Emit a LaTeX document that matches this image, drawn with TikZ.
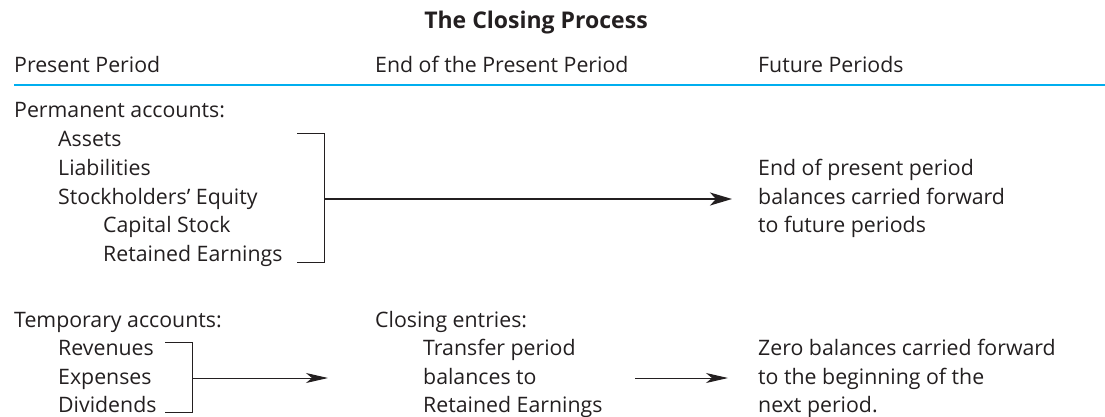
\documentclass[tikz,border=0pt]{standalone}
\usepackage{fontspec}
\setmainfont{Open Sans}
\usetikzlibrary{arrows.meta}
\definecolor{ink}{HTML}{231F20}
\definecolor{rulecol}{HTML}{00AEEF}
\begin{document}
\begin{tikzpicture}[x=1pt,y=-1pt,
  txt/.style={anchor=base west, inner sep=0pt, font=\fontsize{21.3}{24}\selectfont, text=ink},
  ttl/.style={anchor=base, inner sep=0pt, font=\fontsize{23}{26}\selectfont\bfseries, text=ink},
  brk/.style={draw=ink, line width=1pt},
  bigarrow/.style={draw=ink, line width=2pt, -{Stealth[length=22pt,width=13pt,inset=6pt]}},
  smallarrow/.style={draw=ink, line width=1pt, -{Stealth[length=22pt,width=10pt,inset=6pt]}}]
\useasboundingbox (0,0) rectangle (1105,416);
% title and headers
\node[ttl] (title) at (536,28) {The Closing Process};
\node[txt] (h1) at (14,72) {Present Period};
\node[txt] (h2) at (375,72) {End of the Present Period};
\node[txt] (h3) at (758,72) {Future Periods};
\coordinate (rl) at (14,85);
\coordinate (rr) at (1105,85);
\draw[rulecol, line width=2.2pt] (rl) -- (rr);
% permanent accounts
\node[txt] (p0) at (14,117) {Permanent accounts:};
\node[txt] (p1) at (58,146) {Assets};
\node[txt] (p2) at (58,175) {Liabilities};
\node[txt] (p3) at (58,204) {Stockholders’ Equity};
\node[txt] (p4) at (103,232) {Capital Stock};
\node[txt] (p5) at (103,261) {Retained Earnings};
\node[txt] (f1) at (758,175) {End of present period};
\node[txt] (f2) at (758,204) {balances carried forward};
\node[txt] (f3) at (758,232) {to future periods};
\coordinate (b1a) at (297,133);
\coordinate (b1b) at (324,133);
\coordinate (b1c) at (324,262);
\coordinate (b1d) at (297,262);
\coordinate (b1m) at (324,199);
\coordinate (a1e) at (732,199);
\draw[brk] (b1a) -- (b1b) -- (b1c) -- (b1d);
\draw[bigarrow] (b1m) -- (a1e);
% temporary accounts
\node[txt] (t0) at (14,327) {Temporary accounts:};
\node[txt] (t1) at (58,355) {Revenues};
\node[txt] (t2) at (58,384) {Expenses};
\node[txt] (t3) at (58,412) {Dividends};
\node[txt] (c0) at (375,327) {Closing entries:};
\node[txt] (c1) at (423,355) {Transfer period};
\node[txt] (c2) at (423,384) {balances to};
\node[txt] (c3) at (423,412) {Retained Earnings};
\node[txt] (z1) at (758,355) {Zero balances carried forward};
\node[txt] (z2) at (758,384) {to the beginning of the};
\node[txt] (z3) at (758,412) {next period.};
\coordinate (b2a) at (165,342);
\coordinate (b2b) at (192,342);
\coordinate (b2c) at (192,412);
\coordinate (b2d) at (165,412);
\coordinate (b2m) at (192,378);
\coordinate (a2e) at (328,378);
\coordinate (a3s) at (635,378);
\coordinate (a3e) at (728,378);
\draw[brk] (b2a) -- (b2b) -- (b2c) -- (b2d);
\draw[smallarrow] (b2m) -- (a2e);
\draw[smallarrow] (a3s) -- (a3e);
\end{tikzpicture}
\end{document}
